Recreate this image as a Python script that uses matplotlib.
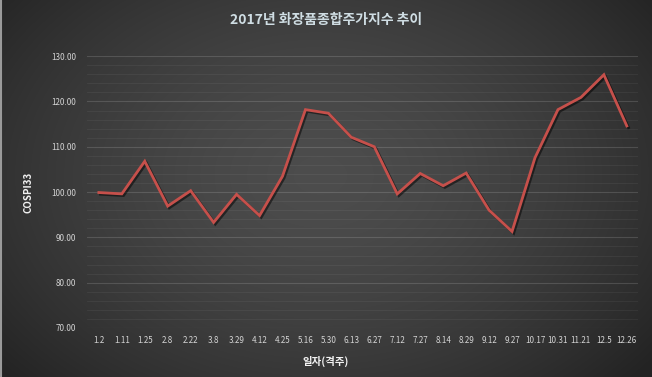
'''
2017 cosmetics composite index line chart
'''

###########################################
import numpy as np
import matplotlib.pyplot as plt
import matplotlib.patheffects as pe

plt.rcParams['font.family'] = ['Noto Sans CJK KR', 'DejaVu Sans']

###########################################
# data

dates = ['1.2', '1.11', '1.25', '2.8', '2.22', '3.8', '3.29', '4.12', '4.25', '5.16',
         '5.30', '6.13', '6.27', '7.12', '7.27', '8.14', '8.29', '9.12', '9.27', '10.17',
         '10.31', '11.21', '12.5', '12.26']
cospi = [99.9, 99.6, 106.8, 96.9, 100.3, 93.3, 99.5, 94.8, 103.5, 118.2,
         117.4, 112.1, 110.0, 99.6, 104.1, 101.4, 104.2, 96.0, 91.3, 107.6,
         118.2, 120.9, 125.9, 114.6]
yTicks = [70, 80, 90, 100, 110, 120, 130]

###########################################
# figure with radial gradient background

fig = plt.figure(figsize=(6.52, 3.77), dpi=100)
bg = fig.add_axes([0, 0, 1, 1])
yy, xx = np.mgrid[0:377, 0:652]
r = np.sqrt(((xx - 320) / 420.0) ** 2 + ((yy - 175) / 300.0) ** 2)
shade = np.clip(0.30 - 0.16 * r ** 1.6, 0.14, 0.30)
bg.imshow(np.dstack([shade, shade, shade]), aspect='auto', extent=[0, 652, 377, 0])
bg.plot([1, 1], [0, 377], color='#9a9a9a', lw=1.5)
bg.set_xlim(0, 652)
bg.set_ylim(377, 0)
bg.axis('off')

ax = fig.add_axes([0.134, 0.130, 0.845, 0.721])
ax.patch.set_alpha(0)
x = np.arange(len(dates))
ax.plot(x, cospi, color='#c6504b', lw=2.0, solid_joinstyle='miter',
        path_effects=[pe.SimpleLineShadow(offset=(1.2, -1.2), alpha=0.5), pe.Normal()], zorder=3)

ax.set_xlim(-0.5, len(dates) - 0.5)
ax.set_ylim(70, 130)
ax.set_yticks(yTicks)
ax.set_yticklabels(['%.2f' % v for v in yTicks])
ax.set_yticks(np.arange(70, 131, 2), minor=True)
ax.set_xticks(x)
ax.set_xticklabels(dates)
ax.grid(axis='y', which='major', color='#ffffff', alpha=0.14, lw=0.8)
ax.grid(axis='y', which='minor', color='#ffffff', alpha=0.06, lw=0.6)
ax.tick_params(axis='both', which='both', length=0, colors='#d4d4d4', labelsize=5.8)
ax.tick_params(axis='x', pad=6)
ax.tick_params(axis='y', pad=8)
for s in ax.spines.values():
  s.set_visible(False)

ax.set_ylabel('COSPI33', color='#f2f2f2', fontsize=7, fontweight='bold', labelpad=13)
fig.text(0.5, 0.04, '일자(격주)', color='#f2f2f2', fontsize=7.5, fontweight='bold', ha='center', va='center')
fig.text(0.5, 0.948, '2017년 화장품종합주가지수 추이', color='#cfdde3', fontsize=10,
         fontweight='bold', ha='center', va='center')

fig.savefig('out.png', dpi=100)
